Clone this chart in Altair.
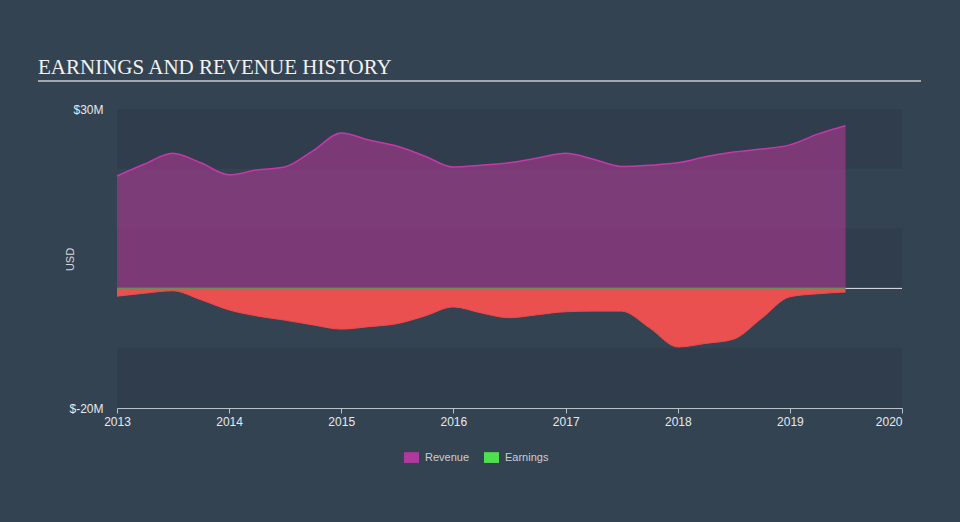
import altair as alt
import pandas as pd

# ---- data ----
quarters = [
    "2013-01-01", "2013-04-01", "2013-07-01", "2013-10-01",
    "2014-01-01", "2014-04-01", "2014-07-01", "2014-10-01",
    "2015-01-01", "2015-04-01", "2015-07-01", "2015-10-01",
    "2016-01-01", "2016-04-01", "2016-07-01", "2016-10-01",
    "2017-01-01", "2017-04-01", "2017-07-01", "2017-10-01",
    "2018-01-01", "2018-04-01", "2018-07-01", "2018-10-01",
    "2019-01-01", "2019-04-01", "2019-07-01",
]
revenue = [18.8, 20.8, 22.6, 21.0, 19.0, 19.8, 20.3, 23.0, 26.0, 24.8,
           23.8, 22.1, 20.3, 20.6, 21.0, 21.8, 22.6, 21.6, 20.4, 20.6,
           21.0, 22.0, 22.8, 23.3, 24.0, 25.8, 27.2]
earnings = [-1.3, -0.8, -0.4, -1.9, -3.6, -4.6, -5.3, -6.1, -6.8, -6.4,
            -5.9, -4.6, -3.1, -4.1, -4.9, -4.4, -3.9, -3.8, -3.8, -6.6,
            -9.8, -9.2, -8.5, -5.0, -1.4, -0.9, -0.6]
series_names = ["Revenue", "Earnings"]
legend_colors = ["#b0399f", "#4ee04e"]
band_top = [30, 10, -10]
band_bottom = [20, 0, -20]
y_ticks = [-20, 30]
x_domain = ["2013-01-01", "2020-01-01"]
title_text = "EARNINGS AND REVENUE HISTORY"

df = pd.DataFrame({"date": pd.to_datetime(quarters), "revenue": revenue, "earnings": earnings})
bands = pd.DataFrame({"top": band_top, "bottom": band_bottom})
legend_df = pd.DataFrame({"series": series_names, "date": pd.to_datetime(["2021-06-01"] * 2), "v": [0, 0]})
title_df = pd.DataFrame({"t": [title_text]})

xscale = alt.Scale(domain=[pd.Timestamp(d).isoformat() for d in x_domain])
yscale = alt.Scale(domain=[-20, 30], nice=False, zero=False)

FONT = "Liberation Sans"

x_axis = alt.Axis(
    title=None, format="%Y", tickCount={"interval": "year", "step": 1},
    grid=False, domainColor="#b9c1c9", tickColor="#b9c1c9", tickSize=5,
    labelColor="#e6e9ec", labelFont=FONT, labelFontSize=12, labelPadding=3,
    labelAlign=alt.expr("datum.index == 1 ? 'right' : 'center'"),
)
y_axis = alt.Axis(
    title="USD", values=y_ticks, labelExpr="'$' + datum.value + 'M'",
    grid=False, domain=False, ticks=False, labelPadding=14,
    labelColor="#e6e9ec", labelFont=FONT, labelFontSize=12,
    titleColor="#d5d9dd", titleFont=FONT, titleFontSize=11, titleFontWeight="normal",
    titleX=-42, titleY=150, titleAngle=-90, titleAlign="center",
)

base = alt.Chart(df)

band_layer = alt.Chart(bands).mark_rect(color="#303d4c").encode(
    y=alt.Y("top:Q", scale=yscale, axis=y_axis), y2="bottom:Q"
)

zero_rule = alt.Chart(title_df).mark_rule(color="#e3e6ea", strokeWidth=1).encode(
    y=alt.datum(0, scale=yscale)
)

rev_area = base.mark_area(
    interpolate="monotone", color="#ae3993", fillOpacity=0.6,
    line={"color": "#c23aa8", "strokeWidth": 1.5},
).encode(
    x=alt.X("date:T", scale=xscale, axis=x_axis),
    y=alt.Y("revenue:Q", scale=yscale),
)

earn_area = base.mark_area(
    interpolate="monotone", color="#ea5050", fillOpacity=1,
    line={"color": "#f04848", "strokeWidth": 1},
).encode(
    x=alt.X("date:T", scale=xscale),
    y=alt.Y("earnings:Q", scale=yscale),
    y2=alt.datum(0),
)

zero_line = base.mark_line(color="#71885a", strokeWidth=1.5).encode(
    x=alt.X("date:T", scale=xscale),
    y=alt.datum(0, scale=yscale),
)

legend_layer = alt.Chart(legend_df).mark_point(filled=True, clip=True, size=10, opacity=1).encode(
    x=alt.X("date:T", scale=xscale),
    y=alt.Y("v:Q", scale=yscale),
    color=alt.Color(
        "series:N",
        scale=alt.Scale(domain=series_names, range=legend_colors),
        sort=series_names,
        legend=alt.Legend(
            title=None, orient="none", legendX=287, legendY=341, direction="horizontal",
            symbolType="M-1,-0.72H1V0.72H-1Z", symbolSize=225, symbolStrokeWidth=0,
            symbolOpacity=1, labelColor="#c9ced3", labelFont=FONT, labelFontSize=11,
            labelOffset=6, columnPadding=14,
        ),
    ),
)

title_layer = alt.Chart(title_df).mark_text(
    align="left", baseline="alphabetic", font="Liberation Serif", fontSize=21,
    color="#f2f2f2",
).encode(x=alt.value(-79), y=alt.value(-35), text="t:N")

underline = alt.Chart(title_df).mark_rule(color="#a3a8ae", strokeWidth=2).encode(
    x=alt.value(-79), x2=alt.value(804), y=alt.value(-28)
)

chart = alt.layer(
    band_layer, zero_rule, rev_area, earn_area, zero_line, legend_layer, title_layer, underline
).resolve_scale(y="shared").properties(
    width=785, height=299,
    autosize=alt.AutoSizeParams(type="none"),
    padding={"left": 117, "top": 109, "right": 58, "bottom": 114},
    background="#344352",
).configure_view(stroke=None, fill=None)

chart.save("out.html", embed_options={"renderer": "svg", "actions": False})
